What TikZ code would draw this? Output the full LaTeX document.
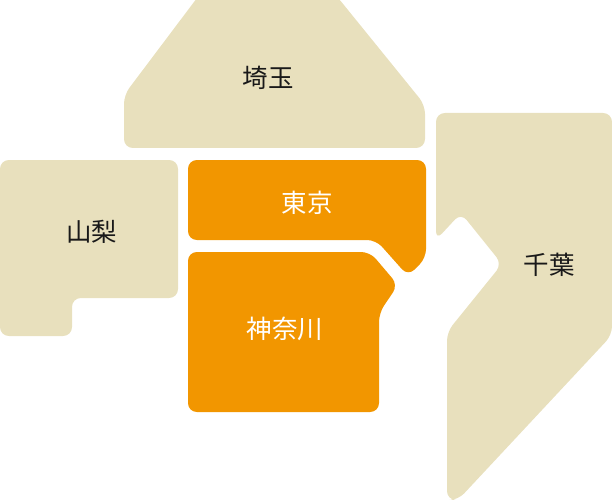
\documentclass[tikz,border=0pt]{standalone}
\usepackage{fontspec}
\setmainfont{Noto Sans CJK JP}
\definecolor{landbeige}{HTML}{E8E0BD}
\definecolor{landorange}{HTML}{F29600}
\tikzset{
  pref/.style={fill=landbeige,rounded corners=5pt},
  prefhi/.style={fill=landorange,rounded corners=5pt},
  preflabel/.style={font=\fontsize{14.5}{14.5}\selectfont,text=black!90},
  preflabelhi/.style={font=\fontsize{14.5}{14.5}\selectfont,text=white}
}
\begin{document}
\begin{tikzpicture}[x=0.02cm,y=-0.02cm]
\useasboundingbox (0,0) rectangle (612,500);
% Saitama
\fill[pref] (124,95) -- (200,-6) -- (335,-6) -- (425,105) -- (425,148) -- (124,148) -- cycle;
% Yamanashi
\fill[pref] (0,160) -- (178,160) -- (178,298) -- (72,298) -- (72,336) -- (0,336) -- cycle;
% Chiba
\fill[pref] (436,113) -- (612,113) -- (612,335) -- (458,500) -- (447,500) -- (447,332) -- (502,264) -- (461,213) -- (436,240) -- cycle;
% Tokyo
\fill[prefhi] (188,160) -- (426,160) -- (426,258) -- (408,276) -- (376,240) -- (188,240) -- cycle;
% Kanagawa
\fill[prefhi] (188,252) -- (370,252) -- (398,285) -- (379,313) -- (379,412) -- (188,412) -- cycle;
\node[preflabel] (saitama) at (268,78) {埼玉};
\node[preflabel] (yamanashi) at (92,232) {山梨};
\node[preflabel] (chiba) at (549,265) {千葉};
\node[preflabelhi] (tokyo) at (307,203) {東京};
\node[preflabelhi] (kanagawa) at (285,329) {神奈川};
\end{tikzpicture}
\end{document}
